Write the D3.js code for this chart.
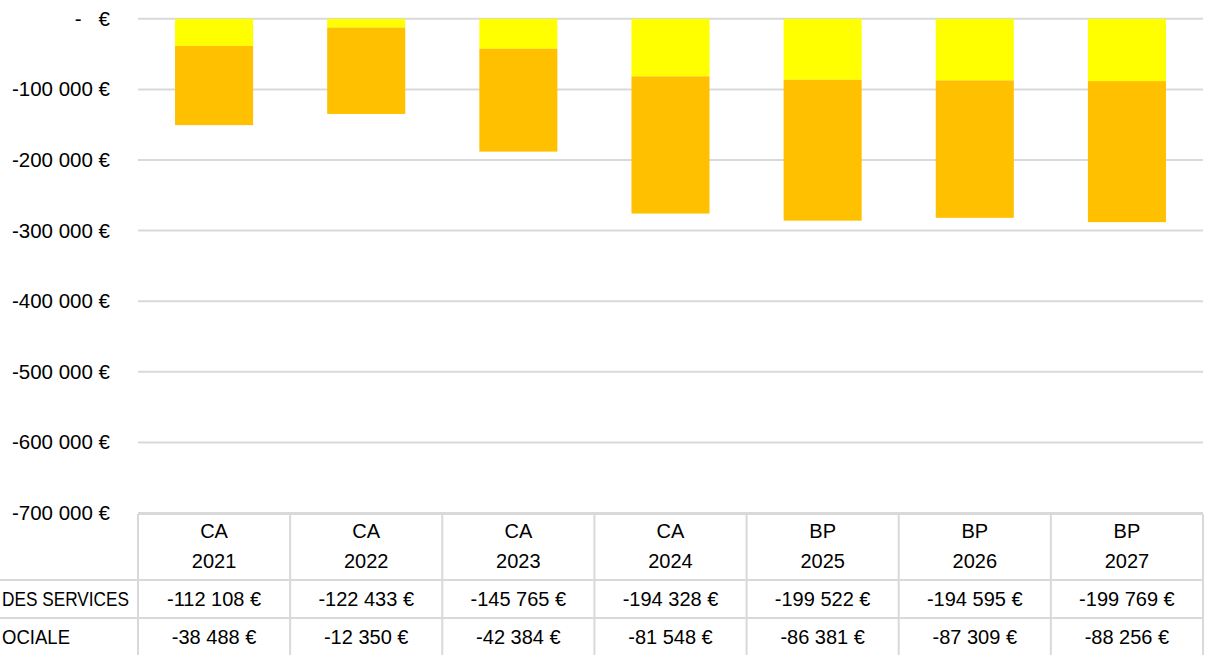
<!DOCTYPE html>
<html><head><meta charset="utf-8">
<script src="https://cdn.jsdelivr.net/npm/d3@7/dist/d3.min.js"></script>
<style>
html,body{margin:0;padding:0;background:#fff;overflow:hidden}
text{font-family:"Liberation Sans",Arial,sans-serif;fill:#000}
</style></head>
<body>
<script>
const categories = [["CA","2021"],["CA","2022"],["CA","2023"],["CA","2024"],["BP","2025"],["BP","2026"],["BP","2027"]];
const seriesNames = ["DES SERVICES","OCIALE"];
const services = [-112108,-122433,-145765,-194328,-199522,-194595,-199769];
const sociale = [-38488,-12350,-42384,-81548,-86381,-87309,-88256];
const yTicks = [0,-100000,-200000,-300000,-400000,-500000,-600000,-700000];

const W = 1212, H = 655;
const mLeft = 138, mRight = 1203, mTop = 18.8, mBottom = 513;
const svg = d3.select("body").append("svg").attr("width",W).attr("height",H);

const x = d3.scaleBand().domain(d3.range(categories.length)).range([mLeft,mRight]).paddingInner(0.487).paddingOuter(0.2435);
const xCol = d3.scaleBand().domain(d3.range(categories.length)).range([mLeft,mRight]);
const y = d3.scaleLinear().domain([0,-700000]).range([mTop,mBottom]);

const fmt = v => v===0 ? "-\u00A0\u00A0\u00A0€" : d3.format(",")(v).replace(/,/g,"\u00A0").replace("−","-") + "\u00A0€";

// gridlines
svg.append("g").selectAll("line").data(yTicks).join("line")
  .attr("x1",mLeft).attr("x2",mRight).attr("y1",d=>y(d)).attr("y2",d=>y(d))
  .attr("stroke","#d9d9d9").attr("stroke-width",2);

// y labels
svg.append("g").selectAll("text").data(yTicks).join("text")
  .attr("x",110).attr("y",d=>y(d)+7).attr("text-anchor","end")
  .attr("font-size",20.5).text(d=>fmt(d));

// bars
const g = svg.append("g");
categories.forEach((c,i)=>{
  g.append("rect").attr("x",x(i)).attr("width",x.bandwidth())
    .attr("y",y(0)).attr("height",y(sociale[i])-y(0)).attr("fill","#FFFF00");
  g.append("rect").attr("x",x(i)).attr("width",x.bandwidth())
    .attr("y",y(sociale[i])).attr("height",y(sociale[i]+services[i])-y(sociale[i])).attr("fill","#FFC000");
});

// data table
const rowTop = 514, rowH1 = 580, rowH2 = 618, rowEnd = 656;
const tbl = svg.append("g").attr("stroke","#d9d9d9").attr("stroke-width",2);
tbl.append("line").attr("x1",mLeft).attr("x2",mRight).attr("y1",rowTop).attr("y2",rowTop);
[rowH1,rowH2,rowEnd].forEach(yy=>tbl.append("line").attr("x1",0).attr("x2",mRight).attr("y1",yy).attr("y2",yy));
d3.range(categories.length+1).forEach(i=>{
  const xx = i<categories.length ? xCol(i) : mRight;
  tbl.append("line").attr("x1",xx).attr("x2",xx).attr("y1",rowTop).attr("y2",H);
});

const t = svg.append("g").attr("font-size",20).attr("text-anchor","middle");
categories.forEach((c,i)=>{
  const cx = xCol(i)+xCol.bandwidth()/2;
  t.append("text").attr("x",cx).attr("y",538).text(c[0]);
  t.append("text").attr("x",cx).attr("y",568).text(c[1]);
  t.append("text").attr("x",cx).attr("y",606).text(fmt(services[i]));
  t.append("text").attr("x",cx).attr("y",644).text(fmt(sociale[i]));
});
svg.append("text").attr("x",2).attr("y",606).attr("font-size",20)
  .attr("textLength",127).attr("lengthAdjust","spacingAndGlyphs").text(seriesNames[0]);
svg.append("text").attr("x",2).attr("y",644).attr("font-size",20)
  .attr("textLength",68).attr("lengthAdjust","spacingAndGlyphs").text(seriesNames[1]);
</script>
</body></html>
